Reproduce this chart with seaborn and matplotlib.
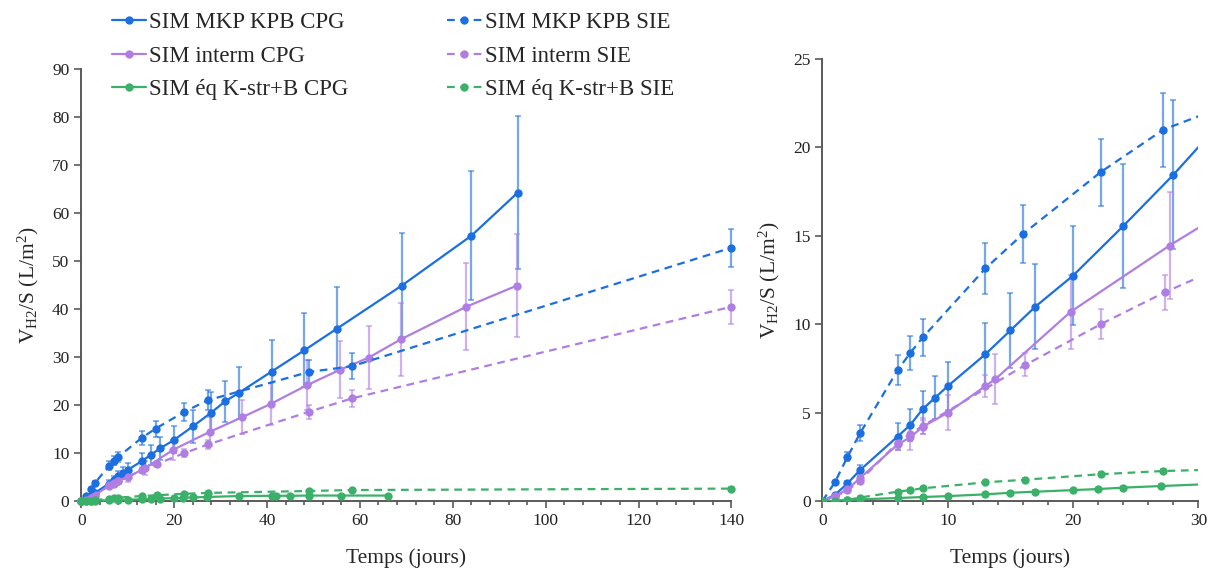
# plot.py
# Cumulative H2 volume per surface, simulated vs. measured, two zoom levels

import numpy as np
import pandas as pd
import seaborn as sns
import matplotlib.pyplot as plt
from matplotlib.ticker import MultipleLocator

# --- Data ---
mkp_cpg_x = [0, 1, 2, 3, 6, 7, 8, 9, 10, 13, 15, 17, 20, 24, 28, 31, 34, 41, 48, 55, 69, 84, 94]
mkp_cpg_y = [0, 0.35, 1.0, 1.75, 3.65, 4.3, 5.2, 5.85, 6.5, 8.3, 9.65, 11.0, 12.75, 15.55, 18.45,
             20.8, 22.6, 27.0, 31.4, 35.9, 44.9, 55.3, 64.3]
mkp_cpg_err = [0, 0.05, 0.15, 0.3, 0.75, 0.9, 1.05, 1.2, 1.35, 1.75, 2.1, 2.4, 2.8, 3.5, 4.2,
               4.3, 5.4, 6.6, 7.7, 8.8, 11.0, 13.5, 16.0]

mkp_sie_x = [0, 1, 2, 3, 6, 7, 8, 13, 16, 22.2, 27.2, 49, 58.3, 140]
mkp_sie_y = [0, 1.07, 2.5, 3.83, 7.4, 8.37, 9.25, 13.15, 15.1, 18.6, 21.0, 26.9, 28.1, 52.8]
mkp_sie_err = [0, 0.05, 0.25, 0.45, 0.85, 0.95, 1.05, 1.45, 1.65, 1.9, 2.1, 2.5, 2.7, 4.0]

interm_cpg_x = [0, 1, 2, 3, 6, 7, 8, 10, 13, 13.8, 19.8, 27.7, 34.7, 40.9, 48.7, 55.8, 61.9,
                68.8, 82.9, 93.8]
interm_cpg_y = [0, 0.3, 0.66, 1.3, 3.2, 3.6, 4.2, 5.0, 6.5, 6.9, 10.7, 14.45, 17.5, 20.3, 24.2,
                27.4, 29.9, 33.7, 40.5, 44.9]
interm_cpg_err = [0, 0.05, 0.1, 0.2, 0.3, 0.7, 0.4, 1.0, 0.6, 1.4, 2.1, 3.0, 3.5, 4.4, 5.3, 6.0,
                  6.6, 7.6, 9.1, 10.7]

interm_sie_x = [0, 1, 2, 3, 6, 7, 8, 16.2, 22.2, 27.3, 49, 58.3, 140]
interm_sie_y = [0, 0.25, 0.6, 1.15, 3.3, 3.8, 4.25, 7.7, 10.0, 11.8, 18.6, 21.4, 40.5]
interm_sie_err = [0, 0.05, 0.1, 0.2, 0.35, 0.4, 0.45, 0.65, 0.85, 1.0, 1.5, 1.8, 3.5]

eq_cpg_x = [0, 1, 2, 3, 6, 8, 10, 13, 15, 17, 20, 22, 24, 27, 34, 41, 42, 45, 49, 56, 66]
eq_cpg_y = [0, 0.0, 0.06, 0.1, 0.17, 0.23, 0.28, 0.38, 0.47, 0.53, 0.62, 0.68, 0.76, 0.85,
            1.05, 1.1, 1.1, 1.1, 1.15, 1.15, 1.15]
eq_cpg_err = [0, 0, 0.02, 0.03, 0.04, 0.05, 0.05, 0.06, 0.06, 0.07, 0.07, 0.08, 0.08, 0.1,
              0.15, 0.15, 0.15, 0.15, 0.2, 0.2, 0.2]

eq_sie_x = [0, 1, 2, 3, 6, 7, 8, 13, 16.2, 22.2, 27.2, 49, 58.3, 140]
eq_sie_y = [0, 0.02, 0.06, 0.2, 0.53, 0.62, 0.72, 1.06, 1.21, 1.52, 1.7, 2.1, 2.3, 2.6]
eq_sie_err = [0, 0, 0.02, 0.03, 0.05, 0.05, 0.06, 0.07, 0.08, 0.1, 0.12, 0.2, 0.2, 0.25]

series_names = ["SIM MKP KPB CPG", "SIM interm CPG", "SIM éq K-str+B CPG",
                "SIM MKP KPB SIE", "SIM interm SIE", "SIM éq K-str+B SIE"]

BLUE, PURPLE, GREEN = "#1c6fe0", "#b07ee3", "#3bb068"


def build_frame() -> pd.DataFrame:
    """Stacks every series into one long table."""
    parts = [
        ("SIM MKP KPB CPG", mkp_cpg_x, mkp_cpg_y, mkp_cpg_err),
        ("SIM interm CPG", interm_cpg_x, interm_cpg_y, interm_cpg_err),
        ("SIM éq K-str+B CPG", eq_cpg_x, eq_cpg_y, eq_cpg_err),
        ("SIM MKP KPB SIE", mkp_sie_x, mkp_sie_y, mkp_sie_err),
        ("SIM interm SIE", interm_sie_x, interm_sie_y, interm_sie_err),
        ("SIM éq K-str+B SIE", eq_sie_x, eq_sie_y, eq_sie_err),
    ]
    frames = [pd.DataFrame({"series": n, "t": x, "v": y, "err": e}) for n, x, y, e in parts]
    return pd.concat(frames, ignore_index=True)


df = build_frame()
palette = dict(zip(series_names, [BLUE, PURPLE, GREEN, BLUE, PURPLE, GREEN]))
dashes = {n: ("" if n.endswith("CPG") else (3.5, 2.5)) for n in series_names}
markers = {n: "o" for n in series_names}

sns.set_theme(style="ticks")
plt.rcParams["font.family"] = ["Liberation Serif", "DejaVu Serif"]
plt.rcParams["mathtext.fontset"] = "custom"
plt.rcParams["mathtext.rm"] = "Liberation Serif"
plt.rcParams["mathtext.it"] = "Liberation Serif:italic"

fig = plt.figure(figsize=(12.13, 5.72), dpi=100)
ax_l = fig.add_axes([0.067, 0.124, 0.536, 0.755])
ax_r = fig.add_axes([0.678, 0.124, 0.310, 0.773])


def draw_panel(ax, clip, legend):
    for name in series_names:
        sub = df[df["series"] == name]
        ax.errorbar(sub["t"], sub["v"], yerr=sub["err"], fmt="none", ecolor=palette[name],
                    alpha=0.6, elinewidth=1.6, capsize=2.5, capthick=1.2, clip_on=clip,
                    zorder=2)
    sns.lineplot(data=df, x="t", y="v", hue="series", style="series", hue_order=series_names,
                 style_order=series_names, palette=palette, dashes=dashes, markers=markers,
                 markersize=6, markeredgewidth=0, linewidth=1.6, ax=ax, legend=legend,
                 estimator=None, sort=False, zorder=3)
    if not clip:
        for art in ax.lines:
            art.set_clip_on(False)


draw_panel(ax_l, clip=False, legend=True)
draw_panel(ax_r, clip=True, legend=False)

# --- Axes styling ---
spine_col = "#5a5a5a"
for ax in (ax_l, ax_r):
    sns.despine(ax=ax)
    for s in ("left", "bottom"):
        ax.spines[s].set_color(spine_col)
        ax.spines[s].set_linewidth(1.4)
    ax.tick_params(which="both", direction="out", color=spine_col, width=1.2,
                   labelsize=12.5, labelcolor="#222222")
    ax.tick_params(which="major", length=5)
    ax.tick_params(which="minor", length=3)
    ax.set_xlabel("Temps (jours)", fontsize=15.5, labelpad=14)
    ax.set_ylabel(r"V$_{\mathrm{H2}}$/S (L/m$^{2}$)", fontsize=15.5, labelpad=8)

ax_l.set_xlim(0, 140)
ax_l.set_ylim(0, 90)
ax_l.xaxis.set_major_locator(MultipleLocator(20))
ax_l.xaxis.set_minor_locator(MultipleLocator(4))
ax_l.yaxis.set_major_locator(MultipleLocator(10))

ax_r.set_xlim(0, 30)
ax_r.set_ylim(0, 25)
ax_r.xaxis.set_major_locator(MultipleLocator(10))
ax_r.xaxis.set_minor_locator(MultipleLocator(2))
ax_r.yaxis.set_major_locator(MultipleLocator(5))

# --- Legend across the top of the left panel ---
handles, labels = ax_l.get_legend_handles_labels()
ax_l.get_legend().remove()
fig.legend(handles, labels, loc="upper left", bbox_to_anchor=(0.075, 1.015), ncol=2,
           frameon=False, fontsize=16.5, handlelength=1.5, handletextpad=0.15,
           columnspacing=4.3, labelspacing=0.55)

fig.savefig("out.png", dpi=100)
